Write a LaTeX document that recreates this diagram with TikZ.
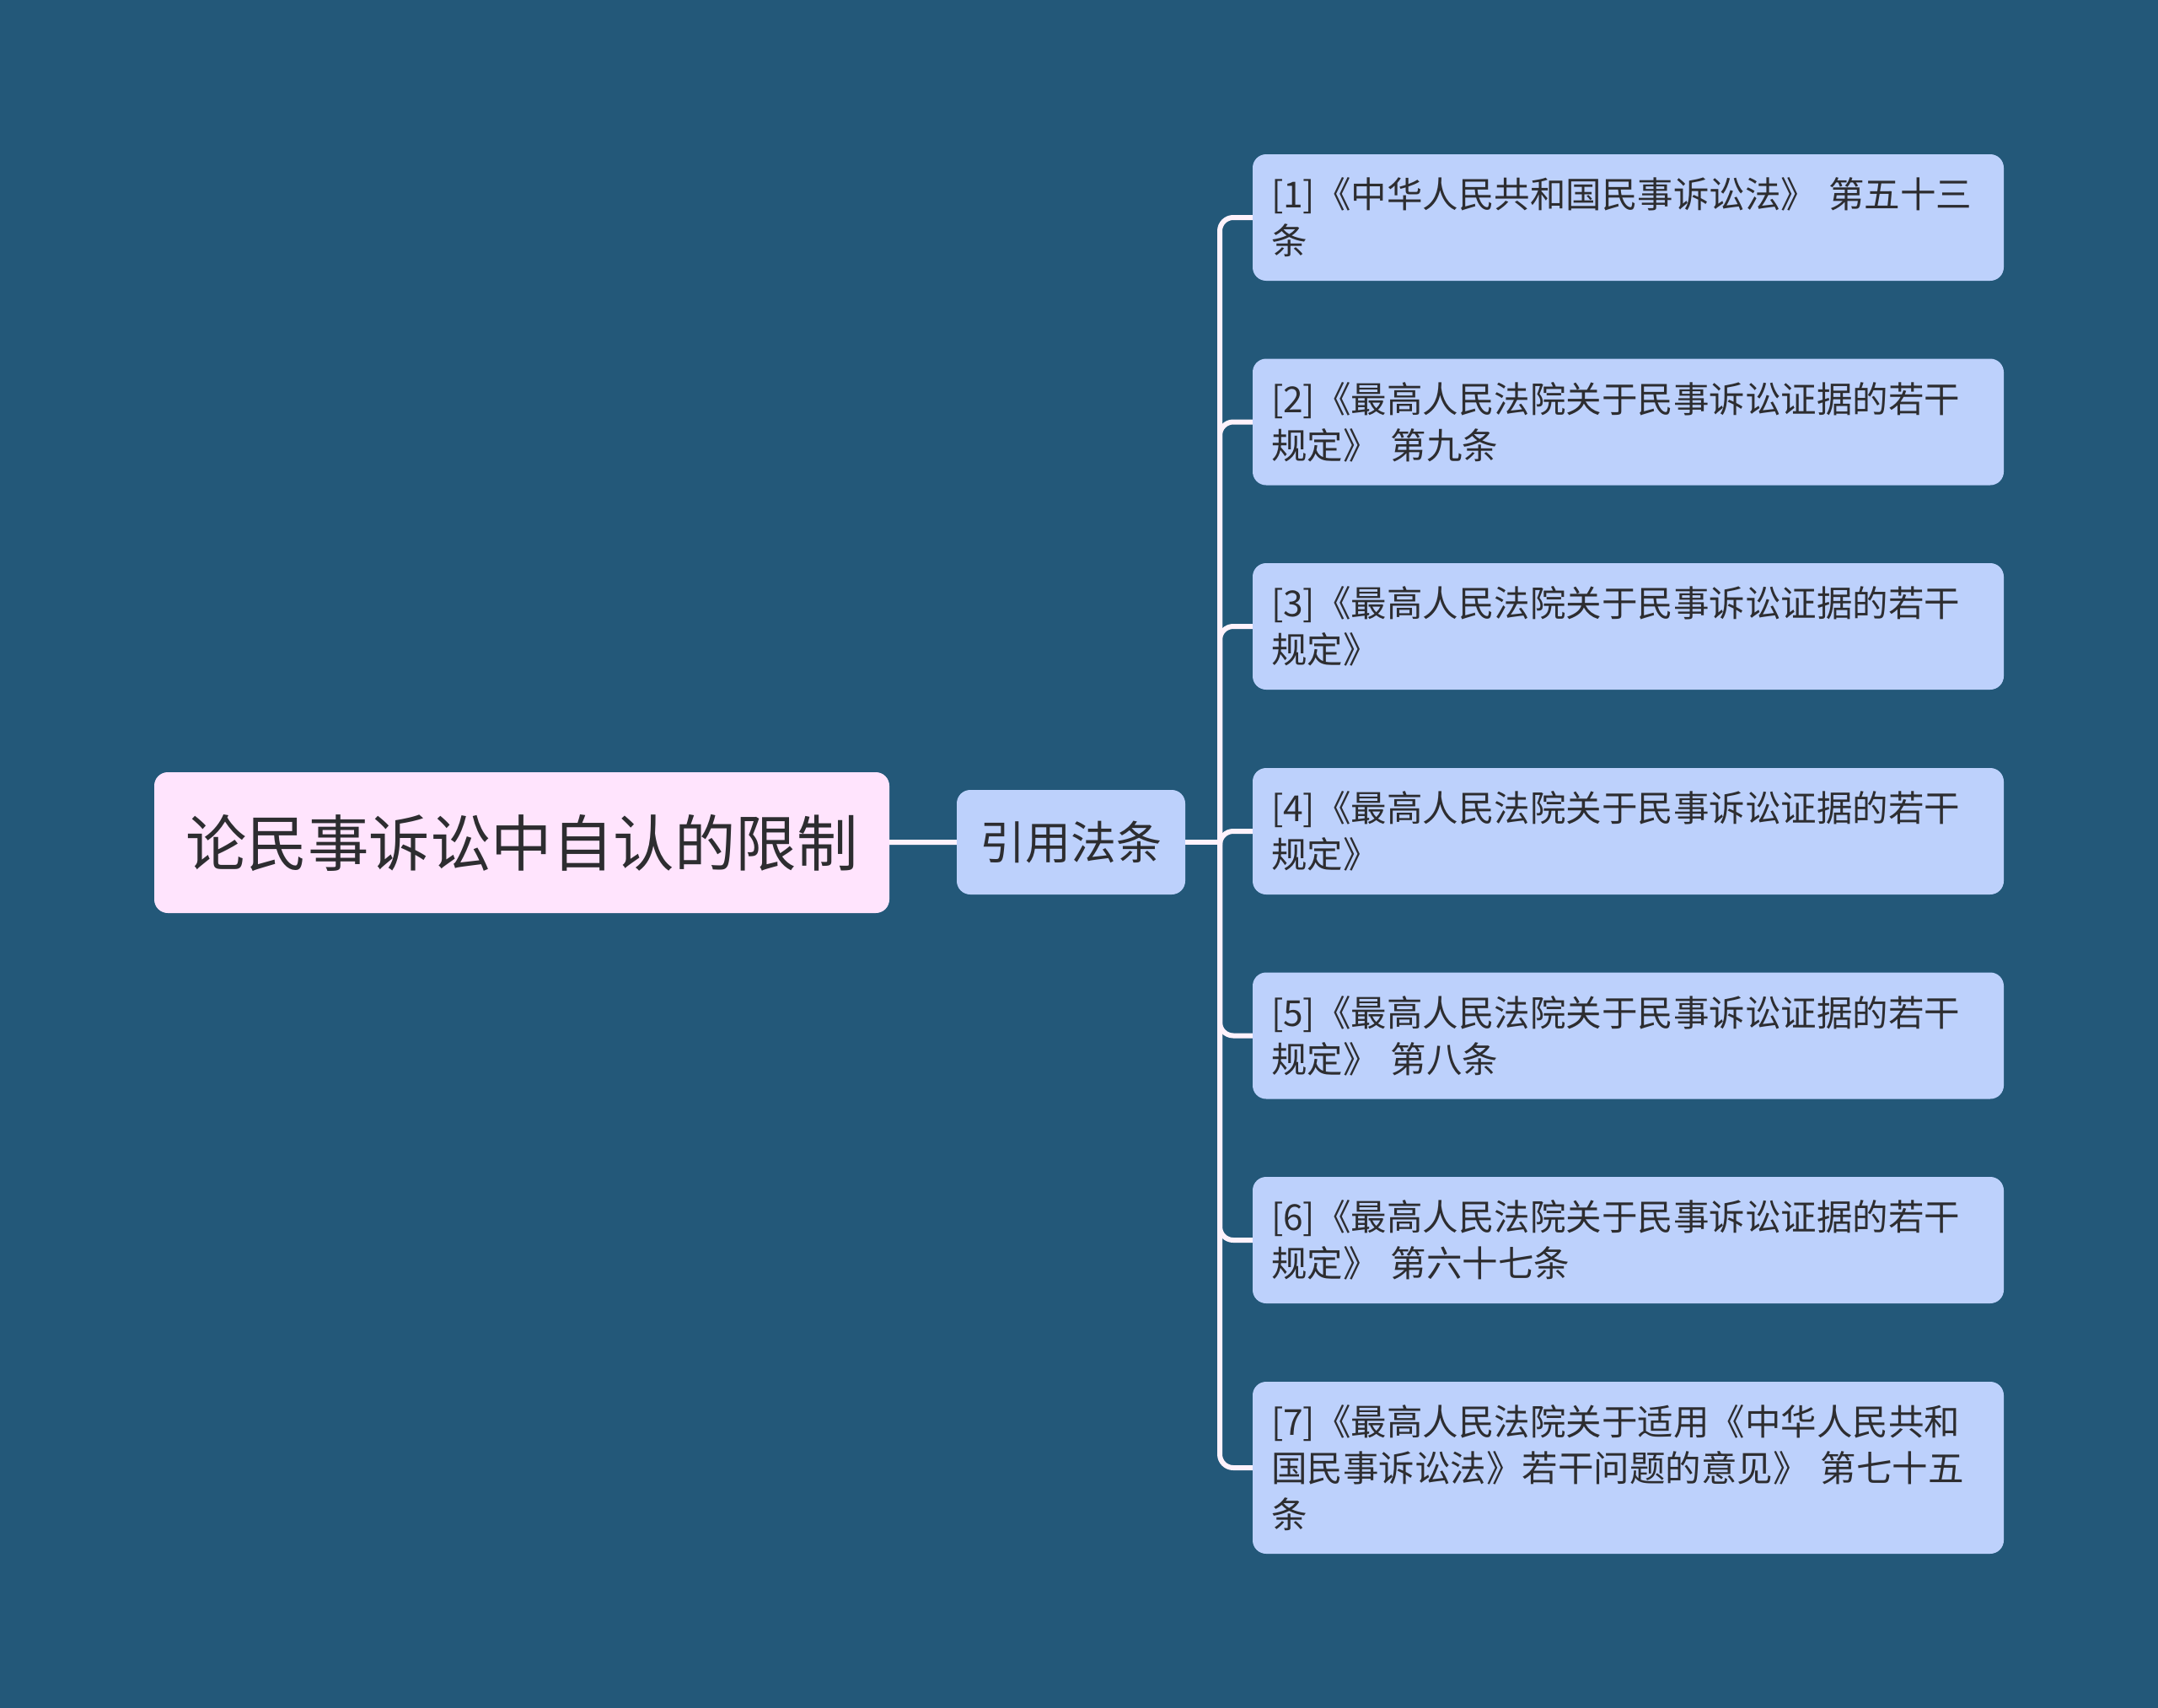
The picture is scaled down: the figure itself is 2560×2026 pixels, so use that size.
\documentclass[tikz,border=0pt]{standalone}
\usepackage{fontspec}
\setmainfont{Noto Sans CJK SC}
\definecolor{bgc}{RGB}{35,88,121}
\definecolor{rootc}{RGB}{255,228,253}
\definecolor{leafc}{RGB}{189,209,252}
\definecolor{linkc}{RGB}{255,242,251}
\definecolor{txtc}{RGB}{45,45,48}
\begin{document}
\begin{tikzpicture}[x=1pt, y=-1pt,
    box/.style={rectangle, rounded corners=16pt, text=txtc, inner sep=0pt},
    rootbox/.style={box, fill=rootc, minimum width=872pt, minimum height=167pt, font=\fontsize{72.5}{86}\selectfont},
    midbox/.style={box, fill=leafc, minimum width=271pt, minimum height=124pt, font=\fontsize{54}{64}\selectfont},
    leaf/.style={box, fill=leafc, minimum height=150pt, text width=847pt, inner xsep=22pt, align=left, font=\fontsize{42.5}{55}\selectfont},
    link/.style={draw=linkc, line width=6pt, rounded corners=16pt}]
        \fill[bgc] (0,0) rectangle (2560,2026);

        \node[rootbox] (root) at (619,999.5) {论民事诉讼中自认的限制};
        \node[midbox] (mid) at (1270.5,999) {引用法条};

        \node[leaf] (l1) at (1931.5,258) {[1]《中华人民共和国民事诉讼法》 第五十三\\条};
        \node[leaf] (l2) at (1931.5,500.5) {[2]《最高人民法院关于民事诉讼证据的若干\\规定》 第九条};
        \node[leaf] (l3) at (1931.5,743) {[3]《最高人民法院关于民事诉讼证据的若干\\规定》};
        \node[leaf] (l4) at (1931.5,986) {[4]《最高人民法院关于民事诉讼证据的若干\\规定》};
        \node[leaf] (l5) at (1931.5,1228.5) {[5]《最高人民法院关于民事诉讼证据的若干\\规定》 第八条};
        \node[leaf] (l6) at (1931.5,1471) {[6]《最高人民法院关于民事诉讼证据的若干\\规定》 第六十七条};
        \node[leaf, minimum height=204pt] (l7) at (1931.5,1741) {[7]《最高人民法院关于适用《中华人民共和\\国民事诉讼法》若干问题的意见》 第七十五\\条};

        \coordinate (hub) at (1447,999);
        \draw[link] (root) -- (mid);
        \draw[link] (mid.east) -- (hub);
        \foreach \i in {1,...,7}
            \draw[link] (hub) |- (l\i.west);
\end{tikzpicture}
\end{document}
